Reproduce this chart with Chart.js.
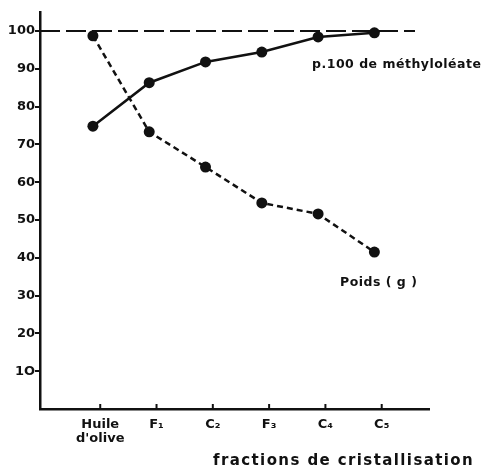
<!DOCTYPE html>
<html>
<head>
<meta charset="utf-8">
<script src="https://cdn.jsdelivr.net/npm/chart.js@4"></script>
<style>
  html, body { margin: 0; padding: 0; background: #fff; }
  #wrap { width: 485px; height: 468px; }
</style>
</head>
<body>
<div id="wrap"><canvas id="c" width="485" height="468"></canvas></div>
<script>
// ---- data ----
const categories = [["Huile", "d'olive"], "F₁", "C₂", "F₃", "C₄", "C₅"];
const methyloleate = [74.8, 86.3, 91.8, 94.4, 98.4, 99.5];
const poids = [98.7, 73.3, 64.0, 54.5, 51.6, 41.5];
const yTickValues = [10, 20, 30, 40, 50, 60, 70, 80, 90, 100];
const yTickLabels = ["1O", "20", "30", "40", "50", "60", "70", "80", "90", "100"];
const referenceValue = 100;
const seriesLabels = ["p.100 de méthyloléate", "Poids ( g )"];
const xTitle = "fractions de cristallisation";

// ---- layout constants ----
const TICK_SHIFT = 0.13;
const INK = '#111';
const FONT = '"DejaVu Sans", sans-serif';

const toXY = arr => arr.map((v, i) => ({ x: i, y: v }));

const decorPlugin = {
  id: 'decor',
  beforeDatasetsDraw(chart) {
    const { ctx, chartArea, scales } = chart;
    const y = scales.y.getPixelForValue(referenceValue);
    ctx.save();
    ctx.strokeStyle = INK;
    ctx.lineWidth = 2;
    ctx.setLineDash([20, 6]);
    ctx.beginPath();
    ctx.moveTo(chartArea.left, y);
    ctx.lineTo(chartArea.right - 14, y);
    ctx.stroke();
    ctx.restore();
  },
  afterDraw(chart) {
    const { ctx, chartArea, scales } = chart;
    ctx.save();
    // upward x ticks
    ctx.strokeStyle = INK;
    ctx.lineWidth = 2;
    scales.x.ticks.forEach(t => {
      const px = scales.x.getPixelForValue(t.value);
      ctx.beginPath();
      ctx.moveTo(px, chartArea.bottom);
      ctx.lineTo(px, chartArea.bottom - 5);
      ctx.stroke();
    });
    ctx.fillStyle = INK;
    ctx.textBaseline = 'alphabetic';
    ctx.textAlign = 'left';
    ctx.font = 'bold 12.5px ' + FONT;
    ctx.letterSpacing = '0.5px';
    ctx.fillText(seriesLabels[0], 312, 68);
    ctx.fillText(seriesLabels[1], 340, 286);
    ctx.font = 'bold 15px ' + FONT;
    ctx.letterSpacing = '1.4px';
    ctx.fillText(xTitle, 213, 465);
    ctx.restore();
  }
};

new Chart(document.getElementById('c'), {
  type: 'line',
  data: {
    datasets: [
      {
        label: seriesLabels[0],
        data: toXY(methyloleate),
        borderColor: INK,
        backgroundColor: INK,
        borderWidth: 2.5,
        pointRadius: 5.5,
        pointBackgroundColor: INK,
        pointBorderWidth: 0,
        tension: 0
      },
      {
        label: seriesLabels[1],
        data: toXY(poids),
        borderColor: INK,
        backgroundColor: INK,
        borderWidth: 2.5,
        borderDash: [6, 4],
        pointRadius: 5.5,
        pointBackgroundColor: INK,
        pointBorderWidth: 0,
        tension: 0
      }
    ]
  },
  options: {
    responsive: false,
    animation: false,
    layout: { padding: { top: 12, right: 56, left: 0, bottom: 0 } },
    plugins: { legend: { display: false }, tooltip: { enabled: false } },
    scales: {
      x: {
        type: 'linear',
        position: 'bottom',
        min: -0.94,
        max: 5.97,
        afterBuildTicks: s => { s.ticks = categories.map((c, i) => ({ value: i + TICK_SHIFT })); },
        afterFit: s => { s.height = 59; },
        grid: { display: true, drawOnChartArea: false, drawTicks: false },
        border: { display: true, color: INK, width: 2.5 },
        ticks: {
          color: INK,
          padding: 8,
          maxRotation: 0,
          autoSkip: false,
          font: { family: FONT, size: 13, weight: 'bold', lineHeight: 1.1 },
          callback: (v, i) => categories[i]
        }
      },
      y: {
        min: 0,
        max: 105,
        afterBuildTicks: s => { s.ticks = yTickValues.map(v => ({ value: v })); },
        afterFit: s => { s.width = 40; },
        grid: { display: true, drawOnChartArea: false, drawTicks: true, tickLength: 5, color: INK, lineWidth: 2 },
        border: { display: true, color: INK, width: 2.5 },
        ticks: {
          color: INK,
          padding: 0,
          font: { family: FONT, size: 13, weight: 'bold' },
          callback: (v, i) => yTickLabels[i]
        }
      }
    }
  },
  plugins: [decorPlugin]
});
</script>
</body>
</html>
